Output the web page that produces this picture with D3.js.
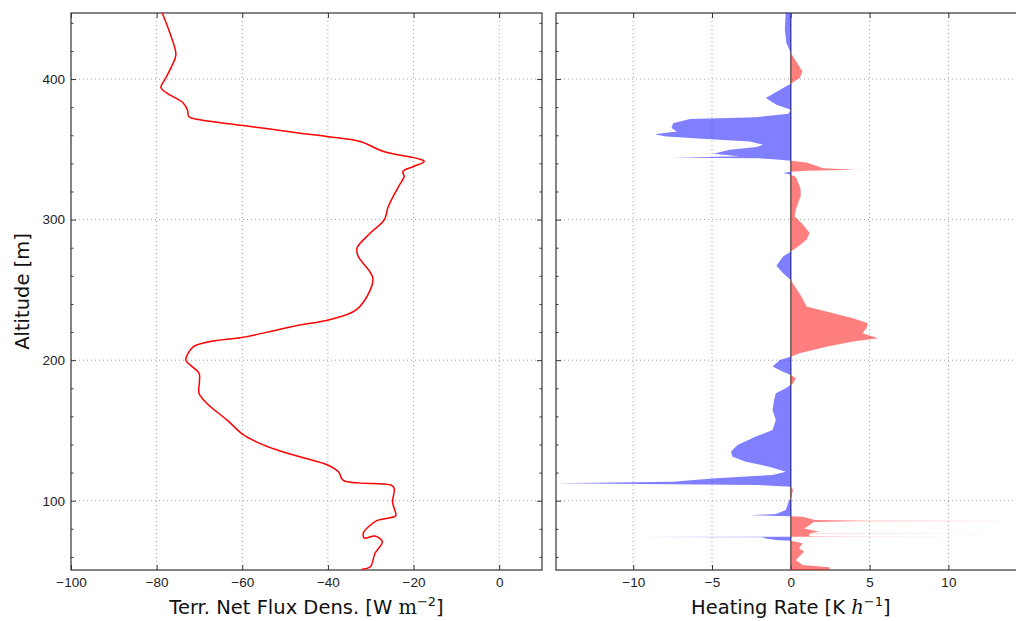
<!DOCTYPE html>
<html>
<head>
<meta charset="utf-8">
<script src="https://cdn.jsdelivr.net/npm/d3@7"></script>
<style>
  body { margin: 0; background: #fff; }
  svg { display: block; font-family: "DejaVu Sans", sans-serif; }
  .tick text { font-size: 13.5px; fill: #222; }
  .tick line { stroke: #333; }
  .grid { stroke: #888; stroke-width: 0.8; stroke-dasharray: 1,3; }
  .spine { fill: none; stroke: #333; stroke-width: 1.2; }
  .label { font-size: 19.5px; fill: #111; }
</style>
</head>
<body>
<script>

// flux profile (altitude in m, net flux in W m-2), in flight order top -> bottom
var fluxAlt = [447, 432.7, 417.3, 409, 400, 394, 390, 383, 378, 373.4, 371, 367, 361.5, 359,
  355.6, 348.5, 343, 341.4, 337.8, 334.2, 330.7, 323.5, 309.3, 300, 290.4, 279.7, 273.7,
  264.2, 258.3, 250, 235.8, 228.6, 225, 221.5, 216.3, 213.2, 209.6, 200.1, 196.7, 190.7,
  184.7, 176.5, 169.4, 157.5, 146.8, 139.7, 134.7, 131.3, 125.2, 120.4, 114.4, 110.9,
  108.5, 99, 89.5, 88.6, 85.8, 81.5, 77.2, 73.4, 74.9, 70.8, 62.6, 53.0, 51.2];
var fluxVal = [-78.7, -76.9, -75.5, -76.5, -78.0, -79.0, -77.6, -73.8, -72.8, -72.5, -69.9,
  -59.8, -46.5, -39.9, -32.5, -27.0, -18.5, -17.5, -20.0, -22.5, -22.2, -23.5, -25.9, -26.8,
  -30.1, -33.2, -32.9, -30.5, -29.5, -30.1, -33.4, -39.9, -46.5, -51.9, -59.8, -67.5, -71.4,
  -73.2, -72.2, -70.1, -70.0, -70.1, -68.3, -63.6, -59.7, -55.1, -50.4, -46.5, -39.9, -37.5,
  -36.4, -25.1, -24.5, -24.9, -24.1, -24.5, -28.6, -30.5, -31.7, -31.5, -29.0, -27.3, -29.0,
  -30.1, -32.1];

// heating rate profile (altitude in m, K h-1)
var heatAlt = [447, 435, 425.6, 418.5, 416, 405.4, 400.7, 396.6, 393.6, 386.5, 381.7, 378.1,
  375.3, 372.9, 371.5, 368.6, 365.1, 362.7, 361.2, 360.6, 359.1, 357.3, 355.6, 353.2, 351.6,
  349.7, 346.8, 345, 344.1, 343.6, 342.6, 341.8, 340.6, 339, 336.6, 335.4, 334.8, 334.0,
  333.1, 332.0, 330.5, 329.5, 323.5, 321.2, 316.4, 314.1, 307, 302.2, 297.5, 290.4, 285.6,
  280.8, 277.3, 273.7, 267.1, 261.9, 257.1, 253.6, 245.2, 238.1, 234.6, 229.8, 226.3, 222.7,
  219.2, 215.6, 213.2, 209.6, 204.9, 202.5, 200.2, 195.4, 191.8, 189.5, 187.1, 183.6, 182.5,
  180, 176.5, 171.7, 164.6, 157.5, 150.3, 145.6, 139.7, 134.9, 131.3, 127.8, 124.2, 120.6,
  118.3, 116, 113.5, 112.4, 111.2, 110, 107.6, 105, 101, 100.5, 93.4, 90.6, 89.6, 89.0, 88.6,
  86.8, 86.2, 85.7, 85.5, 85.3, 84.9, 83.9, 80.3, 77.9, 76.9, 76.8, 76.7, 75.6, 74.8, 74.6,
  74.5, 74.4, 74.2, 74.0, 73.2, 72, 71.5, 69.7, 66.1, 63.7, 61.4, 57.8, 54.2, 52.6, 51.0, 50];
var heatVal = [-0.32, -0.38, -0.28, 0, 0.15, 0.74, 0.57, 0, -0.49, -1.59, -0.91, 0,
  -0.15, -2.18, -6.4, -7.47, -7.57, -7.23, -8.3, -8.6, -7.89, -5.35, -2.6, -1.76, -2.18,
  -3.87, -4.93, -3.24, -7.5, -2.0, -0.7, 0, 1.0, 1.42, 2.05, 4.17, 1.0, 0,
  -0.49, 0, 0.3, 0.36, 0.57, 0.63, 0.63, 0.53, 0.32, 0.25, 0.68, 1.2, 1.0,
  0.47, 0, -0.49, -0.91, -0.49, 0, 0.19, 0.68, 1.0, 2.26, 3.95, 4.9, 4.8,
  4.54, 5.54, 3.95, 2.26, 0.57, 0, -0.7, -1.16, -0.49, 0, 0.32, 0.15, 0,
  -0.32, -0.95, -1.06, -1.16, -0.95, -1.16, -2.22, -3.38, -3.8, -3.7, -2.85, -1.37, -0.32,
  -1.16, -4.76, -7.5, -14.9, -2.2, 0, 0.15, 0.08, 0, -0.1, -0.32, -0.95, -2.6, 0, 0.74,
  1.37, 1.5, 4.8, 14.5, 4.0, 1.4, 1.37, 0.85, 1.8, 1.2, 14.0, 1.2, 1.16, 1.16, 3.5,
  11.3, 0, -9.8, -1.8, -1.58, -0.95, 0, 0.74, 0.53, 0.85, 0.63, 0.32, 0.74, 2.43, 2.5, 2.0];

var altTicks = [100, 200, 300, 400];
var altMinor = [60, 80, 120, 140, 160, 180, 220, 240, 260, 280, 320, 340, 360, 380, 420, 440];
var fluxTicks = [-100, -80, -60, -40, -20, 0];
var heatTicks = [-10, -5, 0, 5, 10];

window.onload = function() {

  var W = 1016, H = 621;
  var top = 13, bottom = 570;

  var svg = d3.select("body").append("svg")
              .attr("width", W)
              .attr("height", H);

  var yScale = d3.scaleLinear().domain([50.7, 447]).range([bottom, top]);

  var left = { x0: 71, x1: 542 };
  var right = { x0: 556, x1: 1025.6 };

  var xFlux = d3.scaleLinear().domain([-100, 10]).range([left.x0, left.x1]);
  var xHeat = d3.scaleLinear().domain([-14.9, 14.9]).range([right.x0, right.x1]);

  drawFrame(svg, xFlux, yScale, left, top, bottom, fluxTicks, true);
  drawFrame(svg, xHeat, yScale, right, top, bottom, heatTicks, false);

  // left panel: net flux line
  var fluxData = fluxAlt.map(function(a, i) { return { a: a, v: fluxVal[i] }; });
  var line = d3.line()
               .x(function(d) { return xFlux(d.v); })
               .y(function(d) { return yScale(d.a); })
               .curve(d3.curveCatmullRom.alpha(0.5));

  svg.append("path")
     .datum(fluxData)
     .attr("d", line)
     .attr("fill", "none")
     .attr("stroke", "#ff0000")
     .attr("stroke-width", 1.5);

  // right panel: heating rate, red above zero, blue below
  svg.append("clipPath").attr("id", "clipR")
     .append("rect")
       .attr("x", right.x0).attr("y", top)
       .attr("width", right.x1 - right.x0).attr("height", bottom - top);

  var g = svg.append("g").attr("clip-path", "url(#clipR)");

  g.append("line")
   .attr("x1", xHeat(0)).attr("x2", xHeat(0))
   .attr("y1", top).attr("y2", bottom)
   .attr("stroke", "#666")
   .attr("stroke-width", 1.5);

  var heatData = heatAlt.map(function(a, i) { return { a: a, v: heatVal[i] }; });

  var posArea = d3.area()
                  .y(function(d) { return yScale(d.a); })
                  .x0(xHeat(0))
                  .x1(function(d) { return xHeat(Math.max(d.v, 0)); });
  var negArea = d3.area()
                  .y(function(d) { return yScale(d.a); })
                  .x0(xHeat(0))
                  .x1(function(d) { return xHeat(Math.min(d.v, 0)); });

  g.append("path").datum(heatData).attr("d", posArea)
   .attr("fill", "#ff0000").attr("fill-opacity", 0.5);
  g.append("path").datum(heatData).attr("d", negArea)
   .attr("fill", "#0000ff").attr("fill-opacity", 0.5);

  // axis labels
  svg.append("text")
     .attr("class", "label")
     .attr("transform", "translate(29," + ((top + bottom) / 2) + ") rotate(-90)")
     .attr("text-anchor", "middle")
     .text("Altitude [m]");

  var lab1 = svg.append("text")
                .attr("class", "label")
                .attr("x", (left.x0 + left.x1) / 2)
                .attr("y", 614)
                .attr("text-anchor", "middle");
  lab1.append("tspan").text("Terr. Net Flux Dens. [W ");
  lab1.append("tspan").attr("font-family", "DejaVu Serif").text("m");
  lab1.append("tspan").attr("font-size", "13px").attr("dy", -8).text("\u22122");
  lab1.append("tspan").attr("dy", 8).text("]");

  var lab2 = svg.append("text")
                .attr("class", "label")
                .attr("x", xHeat(0))
                .attr("y", 614)
                .attr("text-anchor", "middle");
  lab2.append("tspan").text("Heating Rate [K ");
  lab2.append("tspan").attr("font-family", "DejaVu Serif").attr("font-style", "italic").text("h");
  lab2.append("tspan").attr("font-size", "13px").attr("dy", -8).text("\u22121");
  lab2.append("tspan").attr("dy", 8).text("]");
};


function drawFrame(svg, x, y, box, top, bottom, xt, showY) {

  // dotted grid (skip the tick that sits on the spine)
  var gridX = xt.filter(function(d) { return x(d) > box.x0 + 1; });

  svg.append("g").selectAll("line.gx")
     .data(gridX).enter()
   .append("line")
     .attr("class", "grid")
     .attr("x1", function(d) { return x(d); })
     .attr("x2", function(d) { return x(d); })
     .attr("y1", top).attr("y2", bottom);

  svg.append("g").selectAll("line.gy")
     .data(altTicks).enter()
   .append("line")
     .attr("class", "grid")
     .attr("x1", box.x0).attr("x2", box.x1)
     .attr("y1", function(d) { return y(d); })
     .attr("y2", function(d) { return y(d); });

  // bottom + top ticks (inward)
  svg.append("g").attr("transform", "translate(0," + bottom + ")")
     .call(d3.axisBottom(x).tickValues(xt).tickSize(-5).tickPadding(7.5));
  svg.append("g").attr("transform", "translate(0," + top + ")")
     .call(d3.axisTop(x).tickValues(xt).tickSize(-5).tickFormat(""));

  // left + right ticks
  svg.append("g").attr("transform", "translate(" + box.x0 + ",0)")
     .call(d3.axisLeft(y).tickValues(altTicks).tickSize(-5).tickPadding(6)
             .tickFormat(showY ? d3.format("d") : ""));
  svg.append("g").attr("transform", "translate(" + box.x0 + ",0)")
     .call(d3.axisLeft(y).tickValues(altMinor).tickSize(-2.5).tickFormat(""));
  svg.append("g").attr("transform", "translate(" + box.x1 + ",0)")
     .call(d3.axisRight(y).tickValues(altTicks).tickSize(-5).tickFormat(""));
  svg.append("g").attr("transform", "translate(" + box.x1 + ",0)")
     .call(d3.axisRight(y).tickValues(altMinor).tickSize(-2.5).tickFormat(""));

  svg.selectAll(".domain").remove();

  svg.append("rect")
     .attr("class", "spine")
     .attr("x", box.x0).attr("y", top)
     .attr("width", box.x1 - box.x0)
     .attr("height", bottom - top);
}

</script>
</body>
</html>
